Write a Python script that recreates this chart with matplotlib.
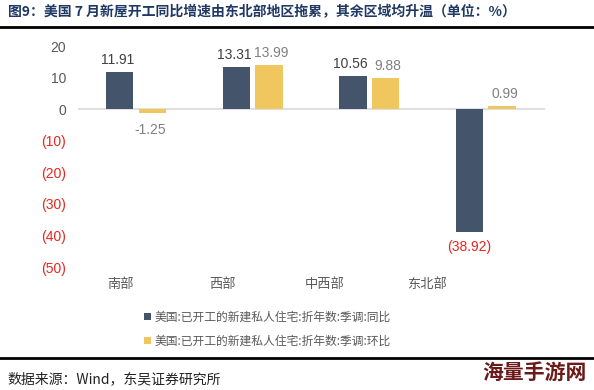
import numpy as np
import matplotlib.pyplot as plt

plt.rcParams['font.family'] = ['Noto Sans CJK SC', 'DejaVu Sans']

regions = ['南部', '西部', '中西部', '东北部']
yoy = [11.91, 13.31, 10.56, -38.92]
mom = [-1.25, 13.99, 9.88, 0.99]
yticks = [20, 10, 0, -10, -20, -30, -40, -50]
series_names = ['美国:已开工的新建私人住宅:折年数:季调:同比',
                '美国:已开工的新建私人住宅:折年数:季调:环比']

dark = '#44546A'
yellow = '#F0C75E'
red = '#E8251F'
num_font = 'Liberation Sans'

fig = plt.figure(figsize=(5.94, 3.9), dpi=100)
ax = fig.add_axes([0.131, 0.315, 0.787, 0.567])

x = np.arange(len(regions))
w = 0.235
off = 0.14
ax.bar(x - off, yoy, w, color=dark, label=series_names[0], zorder=3)
ax.bar(x + off, mom, w, color=yellow, label=series_names[1], zorder=3)

ax.axhline(0, color='#D9D9D9', lw=1.2, zorder=2)
ax.set_xlim(-0.5, 3.51)
ax.set_ylim(-50, 20)

for i in range(len(regions)):
    v = yoy[i]
    if v >= 0:
        ax.text(x[i] - off - 0.02, v + 1.5, f'{v:.2f}', ha='center', va='bottom',
                fontsize=10, color='#404040', family=num_font)
    else:
        ax.text(x[i] - off, v - 2.5, f'({abs(v):.2f})', ha='center', va='top',
                fontsize=10, color=red, family=num_font)
    m = mom[i]
    if m >= 0:
        ax.text(x[i] + off + 0.02, m + 1.5, f'{m:.2f}', ha='center', va='bottom',
                fontsize=10, color='#808080', family=num_font)
    else:
        ax.text(x[i] + off - 0.02, m - 3.0, f'{m:.2f}', ha='center', va='top',
                fontsize=10, color='#808080', family=num_font)

ax.set_yticks(yticks)
ax.set_yticklabels([str(t) if t >= 0 else f'({-t})' for t in yticks],
                   family=num_font, fontsize=10)
for lab, t in zip(ax.get_yticklabels(), yticks):
    lab.set_color('#595959' if t >= 0 else red)
ax.tick_params(axis='y', length=0, pad=8.5)

# category labels sit slightly left of the bar groups in the source
ax.set_xticks(-0.137 + 0.878 * x)
ax.set_xticklabels(regions, fontsize=9.5, color='#595959')
ax.tick_params(axis='x', length=0, pad=8)

for s in ax.spines.values():
    s.set_visible(False)

leg = fig.legend(loc='upper left', bbox_to_anchor=(0.235, 0.215), ncol=1,
                 frameon=False, fontsize=8.5, handlelength=0.6, handleheight=0.6,
                 handletextpad=0.3, labelspacing=0.9, borderaxespad=0)
for t in leg.get_texts():
    t.set_color('#595959')

fig.text(0.013, 0.969, '图9：美国 7 月新屋开工同比增速由东北部地区拖累，其余区域均升温（单位：%）',
         fontsize=10, fontweight='bold', color='#1F3864', va='center', ha='left')
fig.add_artist(plt.Line2D([0, 1], [0.931, 0.931], color='black', lw=2))
fig.add_artist(plt.Line2D([0, 1], [0.082, 0.082], color='black', lw=2))
fig.text(0.013, 0.028, '数据来源：Wind，东吴证券研究所', fontsize=10, color='#222222',
         va='center', ha='left')
fig.text(0.988, 0.045, '海量手游网', fontsize=15, fontweight='bold', color='#6B1A1A',
         va='center', ha='right')

fig.savefig('out.png', dpi=100)
